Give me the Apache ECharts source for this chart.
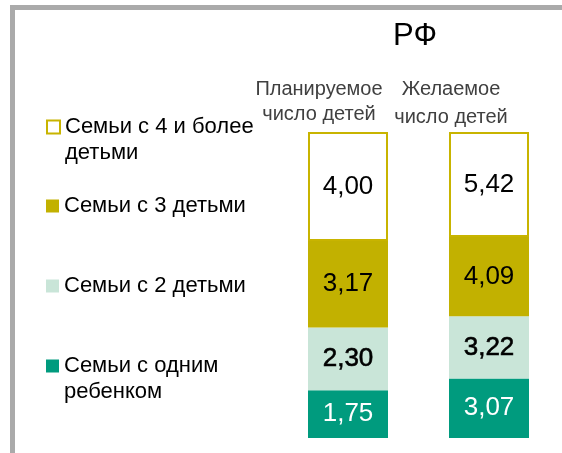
<!DOCTYPE html>
<html><head><meta charset="utf-8">
<script src="https://cdn.jsdelivr.net/npm/echarts@6/dist/echarts.min.js"></script>
<style>html,body{margin:0;padding:0;background:#fff}#c{width:562px;height:453px}</style>
</head><body><div id="c"></div>
<script>
const categories = ['Планируемое\nчисло детей', 'Желаемое\nчисло детей'];
const seriesNames = ['Семьи с одним ребенком', 'Семьи с 2 детьми', 'Семьи с 3 детьми', 'Семьи с 4 и более детьми'];
const oneChild = [1.75, 3.07];
const twoChildren = [2.30, 3.22];
const threeChildren = [3.17, 4.09];
const fourPlus = [4.00, 5.42];
const titleText = 'РФ';

const raw = [oneChild, twoChildren, threeChildren, fourPlus];
const totals = categories.map((c, i) => raw.reduce((s, arr) => s + arr[i], 0));
const FONT = 'Liberation Sans';
const colors = ['#009B7E', '#C9E5D8', '#C2B100', '#FFFFFF'];
const labelColors = ['#FFFFFF', '#000000', '#000000', '#000000'];

const series = raw.map((arr, k) => ({
  name: seriesNames[k],
  type: 'bar',
  stack: 'total',
  barWidth: 80,
  data: arr.map((v, i) => v / totals[i] * 100),
  itemStyle: k === 3 ? { color: '#FFFFFF', borderColor: '#C8B400', borderWidth: 2 } : { color: colors[k] },
  label: {
    show: true, position: 'inside', fontFamily: FONT, fontSize: 26, color: labelColors[k],
    textBorderColor: k === 1 ? '#000' : 'transparent', textBorderWidth: k === 1 ? 0.6 : 0,
    formatter: p => arr[p.dataIndex].toFixed(2).replace('.', ',')
  },
  emphasis: { disabled: true }
}));

const legendPos = [
  { name: seriesNames[3], top: 88, text: '\nСемьи с 4 и более\nдетьми' },
  { name: seriesNames[2], top: 193, text: 'Семьи с 3 детьми' },
  { name: seriesNames[1], top: 273, text: 'Семьи с 2 детьми' },
  { name: seriesNames[0], top: 327, text: '\nСемьи с одним\nребенком' }
];
const legendStyles = {
  [seriesNames[3]]: { color: '#FFFFFF', borderColor: '#C8B400', borderWidth: 2 },
  [seriesNames[2]]: { color: colors[2] },
  [seriesNames[1]]: { color: colors[1] },
  [seriesNames[0]]: { color: colors[0] }
};
const legends = legendPos.map(l => ({
  left: 46, top: l.top, padding: 0, itemWidth: 13, itemHeight: 13, itemGap: 5,
  selectedMode: false,
  data: [{ name: l.name, icon: 'rect', itemStyle: legendStyles[l.name] }],
  formatter: () => l.text,
  textStyle: { fontFamily: FONT, fontSize: 22, color: '#000', lineHeight: 26 }
}));

const catRich = { fontFamily: FONT, fontSize: 20, lineHeight: 28, color: '#404040' };
const chart = echarts.init(document.getElementById('c'), null, { renderer: 'canvas' });
chart.setOption({
  animation: false,
  backgroundColor: '#fff',
  title: { text: titleText, left: 410, top: 16, textAlign: 'center', textStyle: { fontFamily: FONT, fontSize: 31, fontWeight: 'normal', color: '#000' } },
  legend: legends,
  grid: { left: 277.5, right: 2.5, top: 132, bottom: 15, outerBoundsMode: 'none', containLabel: false },
  xAxis: {
    type: 'category', data: categories, position: 'top',
    axisLine: { show: false }, axisTick: { show: false },
    axisLabel: {
      interval: 0, hideOverlap: false, margin: 1, align: 'center',
      fontFamily: FONT, fontSize: 20, lineHeight: 28, color: '#404040',
      formatter: (v, i) => {
        const lines = v.split('\n');
        return lines.map((s, j) => {
          const key = (i === 0 ? 'a' : 'b') + (j === lines.length - 1 ? '2' : '');
          return '{' + key + '|' + s + '}';
        }).join('\n');
      },
      rich: {
        a: Object.assign({}, catRich, { padding: [0, 58, 0, 0] }),
        a2: Object.assign({}, catRich, { padding: [0, 58, 5, 0] }),
        b: Object.assign({}, catRich, { padding: [0, 76, 0, 0] }),
        b2: Object.assign({}, catRich, { padding: [0, 76, 0, 0] })
      }
    }
  },
  yAxis: { type: 'value', min: 0, max: 100, show: false },
  graphic: [{ type: 'rect', shape: { x: 12.5, y: 7.5, width: 700, height: 600 }, style: { fill: 'none', stroke: '#AAAAAA', lineWidth: 5 }, silent: true }],
  series: series
});
</script></body></html>
